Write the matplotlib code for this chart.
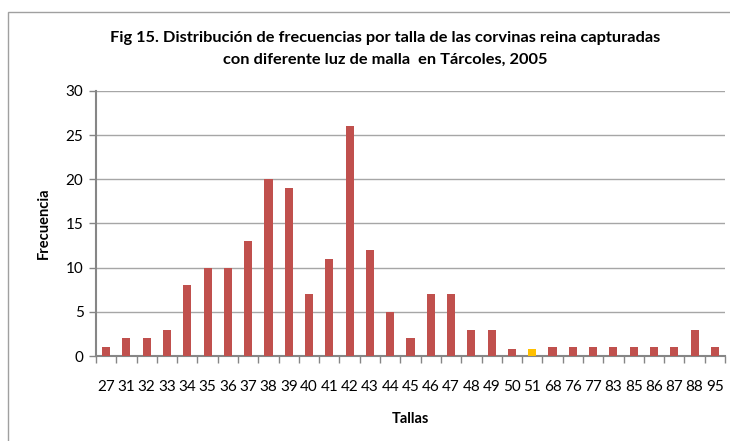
import matplotlib
matplotlib.use("Agg")
import matplotlib.pyplot as plt
from matplotlib.patches import Rectangle
import numpy as np

plt.rcParams['font.family'] = ['Lato', 'DejaVu Sans']

tallas = ["27", "31", "32", "33", "34", "35", "36", "37", "38", "39", "40", "41", "42", "43",
          "44", "45", "46", "47", "48", "49", "50", "51", "68", "76", "77", "83", "85", "86",
          "87", "88", "95"]
frecuencia = [1, 2, 2, 3, 8, 10, 10, 13, 20, 19, 7, 11, 26, 12, 5, 2, 7, 7, 3, 3, 0.8, 0.8,
              1, 1, 1, 1, 1, 1, 1, 3, 1]
highlight = "51"

red = "#C0504D"
yellow = "#FFC000"
axis_gray = "#868686"

fig = plt.figure(figsize=(7.3, 4.41), dpi=100)
fig.patches.append(Rectangle((8 / 730, -0.1), 1.0, 1 - 12 / 441 + 0.1, transform=fig.transFigure,
                             fill=False, edgecolor="#A0A0A0", linewidth=1.0))
ax = fig.add_axes([96 / 730, 1 - 356 / 441, (725 - 96) / 730, (356 - 91) / 441])

x = np.arange(len(tallas))
colors = [yellow if t == highlight else red for t in tallas]
ax.bar(x, frecuencia, width=0.4, color=colors, zorder=3)

ax.set_xlim(-0.5, len(tallas) - 0.5)
ax.set_ylim(0, 30)
ax.set_yticks(range(0, 31, 5))
ax.yaxis.grid(True, color="#A6A6A6", linewidth=1.0, zorder=0)

ax.set_xticks(x)
ax.set_xticklabels(tallas, fontsize=11)
ax.set_xticks(np.arange(-0.5, len(tallas), 1), minor=True)
ax.tick_params(axis='x', which='major', length=0, pad=17)
ax.tick_params(axis='x', which='minor', length=5, color=axis_gray, width=1)
ax.tick_params(axis='y', length=5, color=axis_gray, width=1, labelsize=11, pad=4)

for s in ['top', 'right']:
    ax.spines[s].set_visible(False)
for s in ['left', 'bottom']:
    ax.spines[s].set_color(axis_gray)
    ax.spines[s].set_linewidth(1.5)

ax.set_xlabel("Tallas", fontsize=10.5, fontweight='bold', labelpad=13)
ax.set_ylabel("Frecuencia", fontsize=10.5, fontweight='bold', labelpad=11)

fig.text(385 / 730, 1 - 49 / 441,
         "Fig 15. Distribución de frecuencias por talla de las corvinas reina capturadas\n"
         "con diferente luz de malla  en Tárcoles, 2005",
         ha='center', va='center', fontsize=11.8, fontweight='bold', linespacing=1.65)

fig.savefig("out.png", dpi=100)
